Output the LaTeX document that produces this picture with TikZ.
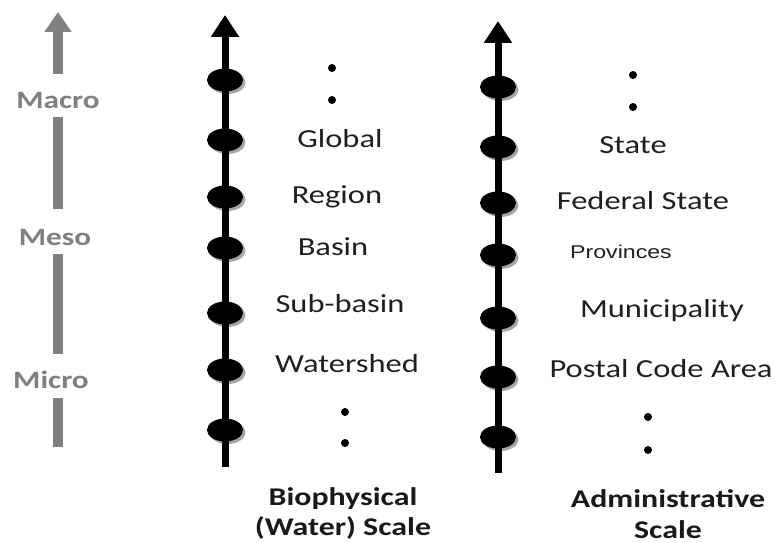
\documentclass[tikz,border=0pt]{standalone}
\usepackage{fontspec}
\setmainfont[FakeStretch=1.25]{Carlito}
\newfontfamily\arialf[FakeStretch=1.25]{Liberation Sans}
\usetikzlibrary{arrows.meta,shapes.geometric,shadows}
\tikzset{
  lab/.style={anchor=base, inner sep=0pt, font=\fontsize{26}{30}\selectfont, text=black!88},
  blab/.style={lab, font=\fontsize{25.5}{30}\selectfont\bfseries, text=black!90},
  glab/.style={lab, font=\fontsize{25}{30}\selectfont\bfseries, text=black!50},
  plab/.style={lab, font=\arialf\fontsize{18.5}{22}\selectfont},
  blob/.style={ellipse, fill=black, minimum width=36pt, minimum height=23pt, inner sep=0pt,
    drop shadow={shadow xshift=2.5pt, shadow yshift=-2.5pt, fill=black!35, opacity=1}},
  smalldot/.style={circle, fill=black, minimum size=8pt, inner sep=0pt},
  axisline/.style={line width=7pt, black, -{Triangle[length=22pt,width=27pt]}},
  gline/.style={line width=10pt, black!50},
}
\begin{document}
\begin{tikzpicture}[x=1pt,y=-1pt]
\useasboundingbox (0,0) rectangle (777,543);
% grey Macro/Meso/Micro arrow
\coordinate (g1) at (58,447);
\coordinate (g2) at (58,398);
\coordinate (g3) at (58,354);
\coordinate (g4) at (58,254);
\coordinate (g5) at (58,209);
\coordinate (g6) at (58,117);
\coordinate (g7) at (58,74);
\coordinate (gtop) at (58,12);
\draw[gline] (g1) -- (g2);
\draw[gline] (g3) -- (g4);
\draw[gline] (g5) -- (g6);
\draw[gline, -{Triangle[length=20pt,width=26pt]}] (g7) -- (gtop);
\node[glab] (macro) at (58,108) {Macro};
\node[glab] (meso) at (55,245) {Meso};
\node[glab] (micro) at (51,388) {Micro};

% biophysical axis
\foreach \i/\y in {1/80,2/140,3/197,4/248,5/313,6/370,7/430}
  \node[blob] (b\i) at (225,\y) {};
\coordinate (bbot) at (225,467);
\coordinate (btop) at (225,15);
\draw[axisline] (bbot) -- (btop);

\node[smalldot] (bd1) at (332,68) {};
\node[smalldot] (bd2) at (332,100) {};
\node[lab] (global) at (340,147) {Global};
\node[lab] (region) at (337,203) {Region};
\node[lab] (basin) at (333,255) {Basin};
\node[lab] (subbasin) at (340,312) {Sub-basin};
\node[lab] (watershed) at (347,372) {Watershed};
\node[smalldot] (bd3) at (345,412) {};
\node[smalldot] (bd4) at (345,443) {};
\node[blab] (bio1) at (343,505) {Biophysical};
\node[blab] (bio2) at (343,535) {(Water) Scale};

% administrative axis
\foreach \i/\y in {1/87,2/147,3/203,4/255,5/318,6/377,7/437}
  \node[blob] (a\i) at (498,\y) {};
\coordinate (abot) at (498,473);
\coordinate (atop) at (498,21);
\draw[axisline] (abot) -- (atop);

\node[smalldot] (ad1) at (633,75) {};
\node[smalldot] (ad2) at (633,107) {};
\node[lab] (state) at (633,153) {State};
\node[lab] (fedstate) at (643,209) {Federal State};
\node[plab] (prov) at (621,258) {Provinces};
\node[lab] (muni) at (662,317) {Municipality};
\node[lab] (postal) at (661,377) {Postal Code Area};
\node[smalldot] (ad3) at (648,417) {};
\node[smalldot] (ad4) at (648,450) {};
\node[blab] (adm1) at (668,507) {Administrative};
\node[blab] (adm2) at (668,538) {Scale};
\end{tikzpicture}
\end{document}
